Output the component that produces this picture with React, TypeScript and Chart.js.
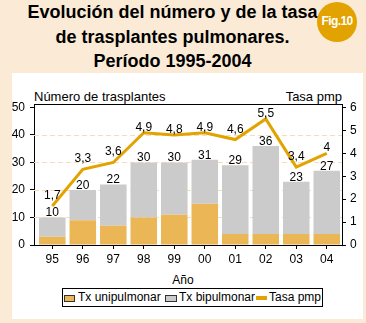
import React, { useEffect, useRef } from 'react';
import { Chart, registerables } from 'chart.js';

Chart.register(...registerables);

// ---- data ----
const categories = ['95', '96', '97', '98', '99', '00', '01', '02', '03', '04'];
const uniValues = [3, 9, 7, 10, 11, 15, 4, 4, 4, 4];
const biValues = [7, 11, 15, 20, 19, 16, 25, 32, 19, 23];
const totalLabels = ['10', '20', '22', '30', '30', '31', '29', '36', '23', '27'];
const rateValues = [1.7, 3.3, 3.6, 4.9, 4.8, 4.9, 4.6, 5.5, 3.4, 4];
const leftTicks = [0, 10, 20, 30, 40, 50];
const rightTicks = [0, 1, 2, 3, 4, 5, 6];
const gridValues = [10, 20, 30, 40];

const FONT = '"Liberation Sans", Arial, Helvetica, sans-serif';
const C_UNI = '#EBB656';
const C_BI = '#CBCBCB';
const C_RATE = '#E2A200';
const C_BEIGE = '#FBEBD6';
const C_GRID = '#F7DDB8';

const fmt = (v: number) => String(v).replace('.', ',');

const decorPlugin = {
  id: 'decor',
  beforeDatasetsDraw(chart: any) {
    const { ctx, chartArea: a, scales } = chart;
    ctx.save();
    ctx.lineWidth = 1;
    ctx.strokeStyle = C_GRID;
    ctx.setLineDash([5, 3]);
    gridValues.forEach((v) => {
      const y = Math.round(scales.y.getPixelForValue(v)) + 0.5;
      ctx.beginPath();
      ctx.moveTo(a.left, y);
      ctx.lineTo(a.right, y);
      ctx.stroke();
    });
    ctx.setLineDash([]);
    ctx.strokeStyle = '#000';
    const t = Math.round(a.top) + 0.5;
    ctx.beginPath();
    ctx.moveTo(a.left, t);
    ctx.lineTo(a.right, t);
    ctx.stroke();
    ctx.restore();
  },
  afterDatasetsDraw(chart: any) {
    const { ctx, scales } = chart;
    ctx.save();
    ctx.fillStyle = '#000';
    ctx.font = `12px ${FONT}`;
    ctx.textAlign = 'center';
    ctx.textBaseline = 'alphabetic';
    categories.forEach((_, i) => {
      const px = scales.x.getPixelForValue(i);
      const top = scales.y.getPixelForValue(uniValues[i] + biValues[i]);
      ctx.fillText(totalLabels[i], px, top - 1);
      const v = rateValues[i];
      const prev = i > 0 ? rateValues[i - 1] : -Infinity;
      const next = i < rateValues.length - 1 ? rateValues[i + 1] : -Infinity;
      const risingNear = next - v > 0.3 || prev - v > 0.3;
      const off = risingNear ? 7 : 2;
      const ly = scales.y1.getPixelForValue(v);
      ctx.fillText(fmt(v), px, ly - off);
    });
    ctx.restore();
  },
};

function ChartCanvas() {
  const ref = useRef<HTMLCanvasElement | null>(null);
  useEffect(() => {
    if (!ref.current) return;
    const tickFont = { family: FONT, size: 12 };
    const chart = new Chart(ref.current, {
      type: 'bar',
      data: {
        datasets: [
          {
            type: 'line',
            label: 'Tasa pmp',
            data: rateValues.map((v, i) => ({ x: i, y: v })),
            yAxisID: 'y1',
            borderColor: C_RATE,
            backgroundColor: C_RATE,
            borderWidth: 3,
            pointRadius: 0,
            tension: 0,
            order: 0,
          } as any,
          {
            type: 'bar',
            label: 'Tx unipulmonar',
            data: uniValues.map((v, i) => ({ x: i, y: v })),
            backgroundColor: C_UNI,
            borderWidth: 0,
            yAxisID: 'y',
            barPercentage: 0.87,
            categoryPercentage: 1,
            order: 1,
          },
          {
            type: 'bar',
            label: 'Tx bipulmonar',
            data: biValues.map((v, i) => ({ x: i, y: v })),
            backgroundColor: C_BI,
            borderWidth: 0,
            yAxisID: 'y',
            barPercentage: 0.87,
            categoryPercentage: 1,
            order: 1,
          },
        ],
      },
      options: {
        animation: false,
        responsive: false,
        events: [],
        layout: { padding: { top: 104, left: 0, right: 0, bottom: 58 } },
        plugins: { legend: { display: false }, tooltip: { enabled: false } },
        scales: {
          x: {
            type: 'linear',
            min: -0.6,
            max: 9.5,
            offset: false,
            stacked: true,
            afterBuildTicks: (s: any) => {
              s.ticks = categories.map((_, i) => ({ value: i }));
            },
            afterFit: (s: any) => {
              s.height = 20;
            },
            ticks: {
              callback: (v: any) => categories[v] ?? '',
              color: '#000',
              font: tickFont,
              padding: 3,
              autoSkip: false,
              maxRotation: 0,
            },
            grid: { drawOnChartArea: false, offset: false, tickLength: 4, color: '#000' },
            border: { color: '#000', width: 1 },
          },
          y: {
            type: 'linear',
            position: 'left',
            stacked: true,
            min: 0,
            max: 51.27,
            afterBuildTicks: (s: any) => {
              s.ticks = leftTicks.map((v) => ({ value: v }));
            },
            afterFit: (s: any) => {
              s.width = 34;
            },
            ticks: { color: '#000', font: tickFont, padding: 5 },
            grid: { drawOnChartArea: false, tickLength: 4, color: '#000' },
            border: { color: '#000', width: 1 },
          },
          y1: {
            type: 'linear',
            position: 'right',
            min: 0,
            max: 6.152,
            afterBuildTicks: (s: any) => {
              s.ticks = rightTicks.map((v) => ({ value: v }));
            },
            afterFit: (s: any) => {
              s.width = 24;
            },
            ticks: { color: '#000', font: tickFont, padding: 4 },
            grid: { drawOnChartArea: false, tickLength: 4, color: '#000' },
            border: { color: '#000', width: 1 },
          },
        },
      } as any,
      plugins: [decorPlugin],
    });
    return () => chart.destroy();
  }, []);
  return (
    <canvas
      ref={ref}
      width={366}
      height={323}
      style={{ position: 'absolute', left: 0, top: 0, width: 366, height: 323 }}
    />
  );
}

const abs = (s: React.CSSProperties): React.CSSProperties => ({ position: 'absolute', ...s });

export default function App() {
  const txt: React.CSSProperties = { fontFamily: FONT, color: '#000', whiteSpace: 'nowrap' };
  return (
    <div
      style={{
        position: 'absolute',
        left: 0,
        top: 0,
        width: 366,
        height: 323,
        overflow: 'hidden',
        background: C_BEIGE,
        fontFamily: FONT,
      }}
    >
      <div
        style={abs({
          left: 0,
          top: 0,
          width: 345,
          textAlign: 'center',
          fontWeight: 'bold',
          fontSize: 18,
          lineHeight: '24.5px',
          ...txt,
        })}
      >
        <div>Evolución del número y de la tasa</div>
        <div>de trasplantes pulmonares.</div>
        <div>Período 1995-2004</div>
      </div>
      <div
        style={abs({
          left: 317,
          top: 2,
          width: 40,
          height: 40,
          borderRadius: '50%',
          background: C_RATE,
          color: '#fff',
          fontWeight: 'bold',
          fontSize: 12,
          letterSpacing: '-0.6px',
          lineHeight: '38px',
          textAlign: 'center',
          fontFamily: FONT,
        })}
      >
        Fig.10
      </div>
      <div style={abs({ left: 12, top: 73, width: 351, height: 246, background: '#fff' })} />
      <div style={abs({ left: 34, top: 88.7, fontSize: 13, lineHeight: '15px', ...txt })}>
        Número de trasplantes
      </div>
      <div style={abs({ right: 24, top: 88.7, fontSize: 13, lineHeight: '15px', ...txt })}>Tasa pmp</div>
      <div style={abs({ left: 83, width: 200, top: 272.8, fontSize: 12, lineHeight: '14px', textAlign: 'center', ...txt })}>
        Año
      </div>
      <div
        style={abs({
          left: 62,
          top: 288,
          width: 261,
          height: 19,
          border: '1px solid #000',
          boxSizing: 'border-box',
          background: '#fff',
        })}
      />
      <div style={abs({ left: 64, top: 295, width: 11, height: 7, background: C_UNI, border: '1px solid #333', boxSizing: 'border-box' })} />
      <div style={abs({ left: 78, top: 288, fontSize: 12, lineHeight: '19px', ...txt })}>Tx unipulmonar</div>
      <div style={abs({ left: 165, top: 295, width: 12, height: 7, background: C_BI, border: '1px solid #333', boxSizing: 'border-box' })} />
      <div style={abs({ left: 179, top: 288, fontSize: 12, lineHeight: '19px', ...txt })}>Tx bipulmonar</div>
      <div style={abs({ left: 256, top: 296, width: 11, height: 4, background: C_RATE })} />
      <div style={abs({ left: 269, top: 288, fontSize: 12, lineHeight: '19px', ...txt })}>Tasa pmp</div>
      <ChartCanvas />
    </div>
  );
}
